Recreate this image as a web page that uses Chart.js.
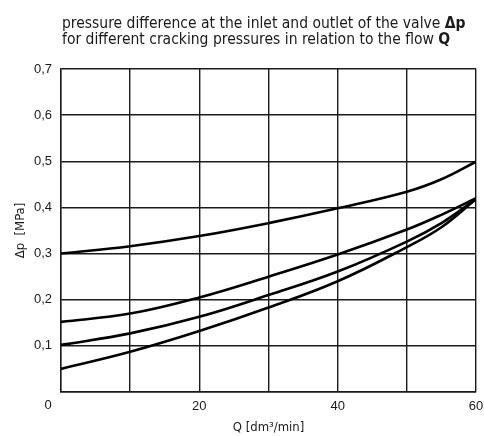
<!DOCTYPE html>
<html lang="en">
<head>
    <meta charset="UTF-8">
    <title>Pressure difference vs flow</title>
    <script src="https://cdn.jsdelivr.net/npm/chart.js"></script>
    <style>
        body {
            margin: 0;
            background-color: #ffffff;
        }
        .chart-box {
            position: relative;
            width: 484px;
            height: 436px;
        }
    </style>
</head>
<body>
    <div class="chart-box">
        <canvas id="dpChart"></canvas>
    </div>

    <script>
        // flow Q [dm3/min]
        const flowQ = [0, 10, 20, 30, 40, 50, 55, 60];
        // pressure difference [MPa], one curve per cracking pressure
        const curve030 = [0.300, 0.316, 0.338, 0.366, 0.398, 0.434, 0.461, 0.499];
        const curve015 = [0.152, 0.170, 0.205, 0.250, 0.298, 0.352, 0.384, 0.420];
        const curve010 = [0.102, 0.127, 0.163, 0.210, 0.261, 0.326, 0.366, 0.418];
        const curve005 = [0.050, 0.087, 0.132, 0.183, 0.240, 0.314, 0.357, 0.418];

        const titleLines = [
            ['pressure difference at the inlet and outlet of the valve ', 'Δp'],
            ['for different cracking pressures in relation to the flow ', 'Q']
        ];
        const xLabels = [20, 40, 60];
        const cornerLabel = '0';

        const narrow = "'DejaVu Sans Condensed', 'Liberation Sans Narrow', sans-serif";
        const ink = '#1a1a1a';

        function toPoints(values) {
            return flowQ.map((q, i) => ({ x: q, y: values[i] }));
        }

        const lineStyle = {
            borderColor: '#000',
            borderWidth: 2.6,
            pointRadius: 0,
            fill: false,
            tension: 0.4
        };

        // title with bold symbols + the shared "0" in the corner
        const extras = {
            id: 'extras',
            afterDraw(chart) {
                const ctx = chart.ctx;
                const area = chart.chartArea;
                ctx.save();
                ctx.fillStyle = ink;
                ctx.textBaseline = 'alphabetic';
                titleLines.forEach((parts, i) => {
                    let x = area.left + 1;
                    const y = 28 + i * 16;
                    ctx.font = '15.5px ' + narrow;
                    ctx.fillText(parts[0], x, y);
                    x += ctx.measureText(parts[0]).width;
                    ctx.font = 'bold 15.5px ' + narrow;
                    ctx.fillText(parts[1], x, y);
                });
                ctx.font = '13px "Liberation Sans", Arial, sans-serif';
                ctx.textAlign = 'center';
                ctx.textBaseline = 'middle';
                ctx.fillText(cornerLabel, area.left - 13, area.bottom + 13);
                ctx.restore();
            }
        };

        const ctx = document.getElementById('dpChart').getContext('2d');
        new Chart(ctx, {
            type: 'line',
            data: {
                datasets: [
                    Object.assign({ label: '0.30', data: toPoints(curve030) }, lineStyle),
                    Object.assign({ label: '0.15', data: toPoints(curve015) }, lineStyle),
                    Object.assign({ label: '0.10', data: toPoints(curve010) }, lineStyle),
                    Object.assign({ label: '0.05', data: toPoints(curve005) }, lineStyle)
                ]
            },
            options: {
                responsive: true,
                maintainAspectRatio: false,
                animation: false,
                layout: { padding: { top: 69, right: 0, left: 0, bottom: 0 } },
                plugins: {
                    legend: { display: false },
                    tooltip: { enabled: false }
                },
                scales: {
                    x: {
                        type: 'linear',
                        min: 0,
                        max: 60,
                        afterFit(scale) {
                            scale.height = 44;
                            scale.paddingRight = 8;
                        },
                        grid: { color: ink, lineWidth: 1.4, drawTicks: false },
                        border: { color: ink, width: 1.4 },
                        ticks: {
                            stepSize: 10,
                            padding: 7,
                            maxRotation: 0,
                            color: ink,
                            font: { family: "'Liberation Sans', Arial, sans-serif", size: 13 },
                            callback: v => xLabels.includes(v) ? String(v) : ''
                        },
                        title: {
                            display: true,
                            text: 'Q [dm³/min]',
                            color: ink,
                            padding: { top: 0, bottom: 1 },
                            font: { family: narrow, size: 13 }
                        }
                    },
                    y: {
                        min: 0,
                        max: 0.7,
                        afterFit(scale) { scale.width = 61; },
                        grid: { color: ink, lineWidth: 1.4, drawTicks: false },
                        border: { color: ink, width: 1.4 },
                        ticks: {
                            stepSize: 0.1,
                            padding: 9,
                            color: ink,
                            font: { family: "'Liberation Sans', Arial, sans-serif", size: 13 },
                            callback: v => v === 0 ? '' : v.toFixed(1).replace('.', ',')
                        },
                        title: {
                            display: true,
                            text: 'Δp  [MPa]',
                            color: ink,
                            padding: { top: 13, bottom: 0 },
                            font: { family: narrow, size: 13 }
                        }
                    }
                }
            },
            plugins: [extras]
        });
    </script>
</body>
</html>
